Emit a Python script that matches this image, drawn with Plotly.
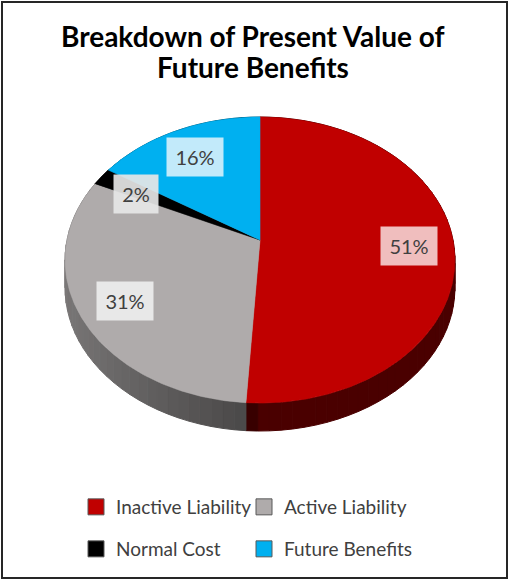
import numpy as np
import plotly.graph_objects as go

# ---- data ----
labels = ["Inactive Liability", "Active Liability", "Normal Cost", "Future Benefits"]
values = [51, 31, 2, 16]
pct_text = ["51%", "31%", "2%", "16%"]
title_lines = ["Breakdown of Present Value of", "Future Benefits"]

# ---- style ----
top_colors = ["#C00000", "#AFABAB", "#000000", "#00B0F0"]
side_rgb = [(74, 0, 0), (95, 93, 93), (0, 0, 0), (0, 90, 122)]
label_bg = ["rgb(240,190,190)", "rgb(232,232,232)", "rgba(230,230,230,0.92)", "rgb(194,234,250)"]
legend_rows = [1, 1, 2, 2]
legend_cols = [1, 2, 1, 2]

W, H = 510, 580
CX, CY = 260, 240        # pie centre (pixel coords)
RX, RY = 193, 140.2      # projected radii
K = -0.14                # perspective factor
DEPTH = 28               # pie thickness
LABEL_R = 0.77


def proj(r, theta_deg):
    th = np.radians(theta_deg)
    u = r * np.sin(th)
    v = -r * np.cos(th)
    d = 1 + K * v
    return CX + RX * u / d, CY + RY * v / d


def shade(rgb, theta_deg):
    u = np.sin(np.radians(theta_deg))
    f = 0.75 + 0.55 * (-u) if u < 0 else 1.0
    return "rgb(%d,%d,%d)" % tuple(min(255, int(c * f)) for c in rgb)


total = float(sum(values))
angles = np.concatenate([[0], np.cumsum(values) / total * 360.0])

fig = go.Figure()

# side walls first (split in strips for a light gradient)
for i in range(len(values)):
    a0, a1 = angles[i], angles[i + 1]
    edges = np.linspace(a0, a1, max(int((a1 - a0) / 3), 2) + 1)
    for s0, s1 in zip(edges[:-1], edges[1:]):
        t = np.linspace(s0, s1, 5)
        x, y = proj(1.0, t)
        xs = np.concatenate([x, x[::-1], x[:1]])
        ys = np.concatenate([y, y[::-1] + DEPTH, y[:1]])
        col = shade(side_rgb[i], (s0 + s1) / 2)
        fig.add_trace(go.Scatter(x=xs, y=ys, mode="lines", fill="toself",
                                 fillcolor=col, line=dict(color=col, width=1),
                                 hoverinfo="skip", showlegend=False))

# top faces
for i in range(len(values)):
    a0, a1 = angles[i], angles[i + 1]
    t = np.linspace(a0, a1, max(int((a1 - a0) * 2), 4))
    x, y = proj(1.0, t)
    xs = np.concatenate([[CX], x, [CX]])
    ys = np.concatenate([[CY], y, [CY]])
    fig.add_trace(go.Scatter(x=xs, y=ys, mode="lines", fill="toself",
                             fillcolor=top_colors[i],
                             line=dict(color=top_colors[i], width=0.6),
                             hoverinfo="text", text=f"{labels[i]}: {pct_text[i]}",
                             showlegend=False))

# data labels
for i in range(len(values)):
    mid = (angles[i] + angles[i + 1]) / 2
    lx, ly = proj(LABEL_R, mid)
    fig.add_annotation(x=float(lx), y=float(ly) + 3, text=pct_text[i], showarrow=False,
                       font=dict(family="Lato", size=20, color="#404040"),
                       bgcolor=label_bg[i], width=50 if len(pct_text[i]) > 2 else 38,
                       height=32, borderpad=3)

# title (two lines, tight spacing)
for j, line in enumerate(title_lines):
    fig.add_annotation(xref="paper", yref="paper", x=253 / W, y=1 - (36 + 31 * j) / H,
                       xanchor="center", yanchor="middle", showarrow=False,
                       text=f"<b>{line}</b>",
                       font=dict(family="Lato", size=28, color="#000000"))

# legend entries
for i in range(len(values)):
    fig.add_trace(go.Scatter(x=[None], y=[None], mode="markers", name=labels[i],
                             marker=dict(symbol="square", size=16, color=top_colors[i],
                                         line=dict(color="#595959", width=1)),
                             legendwidth=123 if legend_cols[i] == 1 else 150,
                             legend="legend" if legend_rows[i] == 1 else "legend2"))

legend_common = dict(orientation="h", xanchor="left", yanchor="middle",
                     bgcolor="rgba(0,0,0,0)", entrywidthmode="pixels",
                     font=dict(family="Lato", size=19, color="#404040"),
                     itemclick=False, itemdoubleclick=False)

fig.update_layout(
    width=W, height=H,
    margin=dict(l=0, r=0, t=0, b=0),
    paper_bgcolor="white", plot_bgcolor="white",
    xaxis=dict(range=[0, W], visible=False, fixedrange=True),
    yaxis=dict(range=[H, 0], visible=False, fixedrange=True),
    legend=dict(x=76 / W, y=1 - 507 / H, **legend_common),
    legend2=dict(x=76 / W, y=1 - 549 / H, **legend_common),
    shapes=[dict(type="rect", xref="paper", yref="paper", x0=2 / W, x1=507 / W,
                 y0=2 / H, y1=1 - 2 / H, line=dict(color="#262626", width=2))],
)

fig.write_html("out.html")
